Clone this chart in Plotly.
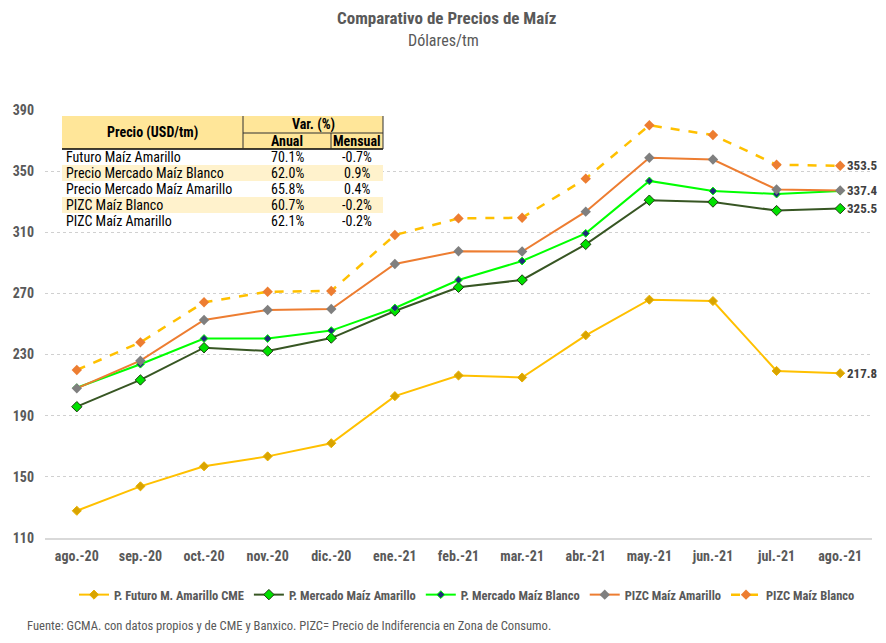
import plotly.graph_objects as go

months = ["ago.-20", "sep.-20", "oct.-20", "nov.-20", "dic.-20", "ene.-21", "feb.-21",
          "mar.-21", "abr.-21", "may.-21", "jun.-21", "jul.-21", "ago.-21"]

futuro_amarillo = [127.8, 143.8, 156.9, 163.4, 172.0, 202.8, 216.3, 215.0, 242.6, 265.9, 265.0, 219.3, 217.8]
mercado_amarillo = [195.9, 213.4, 234.5, 232.3, 240.8, 258.5, 274.0, 278.8, 302.1, 331.0, 329.8, 324.2, 325.5]
mercado_blanco = [208.3, 223.7, 240.5, 240.5, 245.7, 260.5, 278.8, 291.2, 309.3, 343.6, 337.0, 335.0, 337.0]
pizc_amarillo = [207.9, 226.0, 252.6, 259.2, 259.8, 289.3, 297.6, 297.4, 323.5, 358.8, 357.6, 338.0, 337.4]
pizc_blanco = [219.9, 238.0, 264.2, 271.1, 271.6, 308.2, 319.1, 319.5, 345.1, 380.0, 373.6, 354.2, 353.5]

y_ticks = [110, 150, 190, 230, 270, 310, 350, 390]

table_names = ["Futuro Maíz Amarillo", "Precio Mercado Maíz Blanco", "Precio Mercado Maíz Amarillo",
               "PIZC Maíz Blanco", "PIZC Maíz Amarillo"]
table_anual = ["70.1%", "62.0%", "65.8%", "60.7%", "62.1%"]
table_mensual = ["-0.7%", "0.9%", "0.4%", "-0.2%", "-0.2%"]

FONT = "Roboto Condensed, Liberation Sans Narrow, DejaVu Sans Condensed, Arial Narrow, sans-serif"
GRAY = "#595959"

fig = go.Figure()

series = [
    ("P. Futuro M. Amarillo CME", futuro_amarillo, dict(color="#FFC000", width=2),
     dict(symbol="diamond", size=7, color="#D9A400", line=dict(color="#E8B000", width=1))),
    ("P. Mercado Maíz Amarillo", mercado_amarillo, dict(color="#375623", width=2),
     dict(symbol="diamond", size=8, color="#00E000", line=dict(color="#1E3A10", width=1))),
    ("P. Mercado Maíz Blanco", mercado_blanco, dict(color="#00FF00", width=2),
     dict(symbol="diamond", size=6, color="#1F2A7A", line=dict(color="#00FF00", width=1))),
    ("PIZC Maíz Amarillo", pizc_amarillo, dict(color="#ED7D31", width=2),
     dict(symbol="diamond", size=8, color="#7F7F7F", line=dict(color="#7F7F7F", width=0))),
    ("PIZC Maíz Blanco", pizc_blanco, dict(color="#FFC000", width=2.5, dash="dash"),
     dict(symbol="diamond", size=8, color="#ED7D31", line=dict(color="#ED7D31", width=0))),
]

for name, vals, line, marker in series:
    fig.add_trace(go.Scatter(x=months, y=vals, name=name, mode="lines+markers",
                             line=line, marker=marker))

# End labels
for vals in [pizc_blanco, pizc_amarillo, mercado_amarillo, futuro_amarillo]:
    fig.add_annotation(x=months[-1], y=vals[-1], text=f"<b>{vals[-1]:.1f}</b>", showarrow=False,
                       xanchor="left", xshift=5, font=dict(family=FONT, size=13, color="#404040"))

# Table drawn in paper coordinates (plot area in reference pixels: x 45..872, y 110..538)
def px(xp):
    return (xp - 45) / 827.0

def py(yp):
    return (538 - yp) / 428.0

x0, x1, x2, x3 = 62, 243, 331, 383
yh0, yh1, yh2 = 116, 133, 149
row_h = 16
shapes = []
shapes.append(dict(type="rect", xref="paper", yref="paper", x0=px(x0), x1=px(x3), y0=py(yh2), y1=py(yh0),
                   fillcolor="#FFE699", line=dict(width=0), layer="above"))
for i in range(len(table_names)):
    ya = yh2 + i * row_h
    shapes.append(dict(type="rect", xref="paper", yref="paper", x0=px(x0), x1=px(x3),
                       y0=py(ya + row_h), y1=py(ya),
                       fillcolor="#FFF2CC" if i % 2 == 1 else "white", line=dict(width=0), layer="above"))
ln = dict(color="#303030", width=1)
shapes += [
    dict(type="line", xref="paper", yref="paper", x0=px(x0), x1=px(x3), y0=py(yh2), y1=py(yh2),
         line=dict(color="black", width=1.5), layer="above"),
    dict(type="line", xref="paper", yref="paper", x0=px(x1), x1=px(x1), y0=py(yh2), y1=py(yh0), line=ln, layer="above"),
    dict(type="line", xref="paper", yref="paper", x0=px(x3), x1=px(x3), y0=py(yh2), y1=py(yh0), line=ln, layer="above"),
    dict(type="line", xref="paper", yref="paper", x0=px(x1), x1=px(x3), y0=py(yh1), y1=py(yh1), line=ln, layer="above"),
    dict(type="line", xref="paper", yref="paper", x0=px(x2), x1=px(x2), y0=py(yh2), y1=py(yh1), line=ln, layer="above"),
]

tf = dict(family=FONT, size=14, color="black")
hf = dict(family=FONT, size=14, color="black")
ann = [
    dict(x=px((x0 + x1) / 2), y=py((yh0 + yh2) / 2), text="<b>Precio (USD/tm)</b>", font=hf),
    dict(x=px((x1 + x3) / 2), y=py((yh0 + yh1) / 2), text="<b>Var. (%)</b>", font=hf),
    dict(x=px((x1 + x2) / 2), y=py((yh1 + yh2) / 2), text="<b>Anual</b>", font=hf),
    dict(x=px((x2 + x3) / 2), y=py((yh1 + yh2) / 2), text="<b>Mensual</b>", font=hf),
]
for i, (n, a, m) in enumerate(zip(table_names, table_anual, table_mensual)):
    yc = py(yh2 + i * row_h + row_h / 2)
    ann.append(dict(x=px(x0 + 2), y=yc, text=n, font=tf, xanchor="left"))
    ann.append(dict(x=px((x1 + x2) / 2), y=yc, text=a, font=tf))
    ann.append(dict(x=px((x2 + x3) / 2), y=yc, text=m, font=tf))

# Title, subtitle and source note
ann.append(dict(x=px(446), y=py(18), text="<b>Comparativo de Precios de Maíz</b>",
                font=dict(family=FONT, size=17, color=GRAY)))
ann.append(dict(x=px(443), y=py(40), text="Dólares/tm", font=dict(family=FONT, size=16, color=GRAY)))
ann.append(dict(x=px(25), y=py(625), xanchor="left",
                text="Fuente: GCMA. con datos propios y de CME y Banxico. PIZC= Precio de Indiferencia en Zona de Consumo.",
                font=dict(family=FONT, size=12.6, color=GRAY)))
for a in ann:
    a.update(xref="paper", yref="paper", showarrow=False)
    a.setdefault("xanchor", "center")
    a["yanchor"] = "middle"
    fig.add_annotation(**a)

# The page body adds an 8px offset; the figure is sized and placed to compensate.
fig.update_layout(
    width=878, height=635,
    margin=dict(l=37, r=14, t=102, b=105, autoexpand=False),
    paper_bgcolor="white", plot_bgcolor="white",
    font=dict(family=FONT, color=GRAY),
    shapes=shapes,
    legend=dict(orientation="h", x=px(467), xanchor="center", y=py(595), yanchor="middle",
                font=dict(family=FONT, size=12.5, color=GRAY, weight="bold"), itemwidth=30,
                tracegroupgap=0, bgcolor="rgba(0,0,0,0)"),
    xaxis=dict(range=[-0.5, 12.5], showgrid=False, showline=True, linecolor="#D9D9D9", linewidth=1.5,
               ticks="", ticklabelstandoff=4,
               tickfont=dict(family=FONT, size=14, color=GRAY, weight="bold")),
    yaxis=dict(range=[110, 390], tickvals=y_ticks, showgrid=True, gridcolor="#D0D0D0", griddash="dot",
               zeroline=False, showline=False, ticks="", ticklabelstandoff=10,
               tickfont=dict(family=FONT, size=14, color=GRAY, weight="bold")),
)

fig.write_html("out.html")
